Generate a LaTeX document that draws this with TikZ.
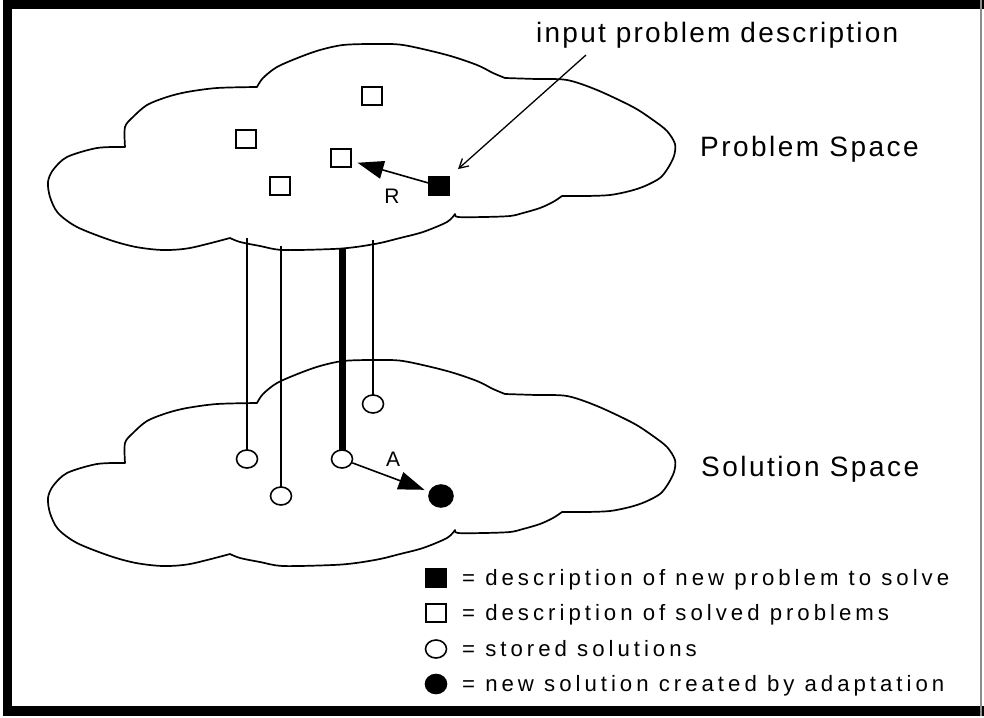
\documentclass[tikz,border=0pt]{standalone}
\usepackage{fontspec}
\setmainfont{Liberation Sans}
\usetikzlibrary{arrows.meta,shapes.geometric}

% outline of one cloud (lobes joined at their notches)
\newcommand\cloudoutline{%
 plot[smooth,tension=0.5] coordinates {(257,87) (263,78) (277,67) (300,57) (320,50) (343,45) (373,44) (403,45) (447,55) (477,65) (493,73) (505,78)}
 -- plot[smooth,tension=0.5] coordinates {(505,78) (536,79) (567,80) (597,90) (633,107) (653,120) (667,131) (675,144) (674,156) (668,168) (660,178) (645,186) (630,191) (610,195) (586,196) (562,196)}
 -- plot[smooth,tension=0.5] coordinates {(562,196) (553,202) (540,208) (523,213) (510,216) (484,217) (458,217) (455,214)}
 -- plot[smooth,tension=0.5] coordinates {(455,214) (447,222) (423,232) (400,238) (380,243) (356,247) (333,249) (283,250) (260,246) (240,242) (230,238)}
 -- plot[smooth,tension=0.5] coordinates {(230,238) (190,248) (163,250) (136,247) (110,240) (77,227) (58,213) (50,197) (48,182) (53,170) (67,157) (97,148) (125,147)}
 -- plot[smooth,tension=0.5] coordinates {(125,147) (125,127) (133,117) (147,105) (167,97) (187,92) (217,88) (257,87)}
 -- cycle}

\begin{document}
\begin{tikzpicture}[x=1pt,y=-1pt,
  outline/.style={line width=1.7pt,line join=round},
  probbox/.style={draw,line width=1.6pt,minimum width=20pt,minimum height=18pt,inner sep=0pt,fill=white},
  newprob/.style={probbox,fill=black},
  solnode/.style={ellipse,draw,line width=1.6pt,minimum width=21pt,minimum height=18pt,inner sep=0pt,fill=white},
  newsol/.style={solnode,fill=black,minimum width=24pt,minimum height=22pt},
  link/.style={line width=1.8pt},
  mainlink/.style={line width=7pt},
  relarrow/.style={line width=1.6pt,-{Triangle[length=26pt,width=18pt]}},
  feedarrow/.style={line width=1.3pt,-{Straight Barb[length=9pt,width=10pt]}},
  biglabel/.style={anchor=base west,inner sep=0pt,font=\fontsize{28}{32}\selectfont\addfontfeature{LetterSpace=8.8}},
  inplabel/.style={anchor=base west,inner sep=0pt,font=\fontsize{28}{32}\selectfont\addfontfeature{LetterSpace=8}},
  keylabel/.style={anchor=base west,inner sep=0pt,font=\fontsize{22.2}{25}\selectfont\addfontfeature{LetterSpace=18}},
  marklabel/.style={inner sep=0pt,font=\fontsize{21}{24}\selectfont}
]
\useasboundingbox (0,0) rectangle (984,717);
\fill[white] (0,0) rectangle (984,717);

% window frame
\fill[black] (3,0) rectangle (984,9);
\fill[black] (3,0) rectangle (12,716);
\fill[black] (3,706) rectangle (984,716);
\draw[black!45,line width=2pt] (981,0) -- (981,716);

% the two spaces
\draw[outline] \cloudoutline;
\draw[outline,shift={(0,316)}] \cloudoutline;

% problem descriptions
\node[probbox] (p1) at (372,96) {};
\node[probbox] (p2) at (246,139) {};
\node[probbox] (p3) at (341,158) {};
\node[probbox] (p4) at (280,186) {};
\node[newprob] (np) at (439,186) {};

% solutions
\coordinate (t1) at (247,238);
\coordinate (t2) at (281,246);
\coordinate (t3) at (342,248);
\coordinate (t4) at (373,240);
\draw[link] (t1) -- (247,450);
\draw[link] (t2) -- (281,487);
\draw[mainlink] (t3) -- (342,450);
\draw[link] (t4) -- (373,395);
\node[solnode] (s1) at (247,459) {};
\node[solnode] (s2) at (281,496) {};
\node[solnode] (s3) at (342,459) {};
\node[solnode] (s4) at (373,404) {};
\node[newsol] (ns) at (441,496) {};

% retrieval and adaptation
\draw[relarrow,shorten >=6pt] (np) -- (p3);
\node[marklabel] (rlab) at (392,196) {R};
\draw[relarrow,shorten >=5pt] (s3) -- (ns);
\node[marklabel] (alab) at (393,459) {A};

% input
\node[inplabel] (inp) at (536,42) {input problem description};
\coordinate (inpfoot) at (586,55);
\draw[feedarrow,shorten >=11pt] (inpfoot) -- (np);

\node[biglabel] (ps) at (700,156) {Problem Space};
\node[biglabel] (ss) at (701,476) {Solution Space};

% key
\node[newprob] (k1) at (436,578) {};
\node[probbox] (k2) at (436,613) {};
\node[solnode] (k3) at (436,649) {};
\node[newsol,minimum width=21pt,minimum height=19pt] (k4) at (436,684) {};
\node[keylabel] (k1t) at (462,585) {= description of new problem to solve};
\node[keylabel] (k2t) at (462,620) {= description of solved problems};
\node[keylabel] (k3t) at (462,656) {= stored solutions};
\node[keylabel] (k4t) at (462,691) {= new solution created by adaptation};
\end{tikzpicture}
\end{document}
